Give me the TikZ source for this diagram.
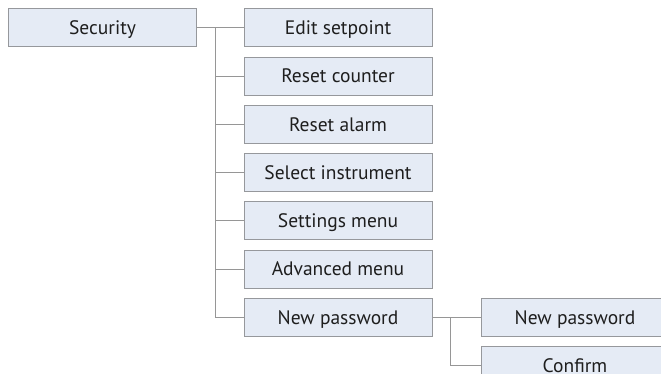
\documentclass[tikz,border=0pt]{standalone}
\usepackage{fontspec}
\setmainfont{PT Sans}
\usetikzlibrary{positioning}
\definecolor{MenuFill}{RGB}{229,235,245}
\definecolor{MenuEdge}{RGB}{150,152,156}
\definecolor{MenuLine}{RGB}{150,150,150}
\definecolor{MenuText}{RGB}{30,30,30}

\begin{document}
\begin{tikzpicture}[x=1pt,y=1pt,node distance=9.2pt]
\tikzstyle{item}=[draw=MenuEdge,line width=1pt,fill=MenuFill,text=MenuText,minimum width=188pt,minimum height=38pt,inner sep=0pt,text height=13.6pt,text depth=0pt,font=\fontsize{19.5}{23}\selectfont]
\tikzstyle{link}=[draw=MenuLine,line width=1pt]
\useasboundingbox (0,0) rectangle (661,-374);
\node[item] (security) at (102.5,-28) {Security};
\node[item] (setpoint) at (338,-28) {Edit setpoint};
\node[item,below=of setpoint] (counter) {Reset counter};
\node[item,below=of counter] (alarm) {Reset alarm};
\node[item,below=of alarm] (instrument) {Select instrument};
\node[item,below=of instrument] (settings) {Settings menu};
\node[item,below=of settings] (advanced) {Advanced menu};
\node[item,below=of advanced] (password) {New password};
\node[item,right=48pt of password] (newpass) {New password};
\node[item,below=of newpass] (confirm) {Confirm};
% first level
\coordinate (busA) at ([xshift=18pt]security.east);
\draw[link] (security.east) -- (setpoint.west);
\foreach \n in {counter,alarm,instrument,settings,advanced,password}
  \draw[link] (busA) |- (\n.west);
% second level
\coordinate (busB) at ([xshift=18pt]password.east);
\draw[link] (password.east) -- (newpass.west);
\draw[link] (busB) |- (confirm.west);
\end{tikzpicture}
\end{document}
